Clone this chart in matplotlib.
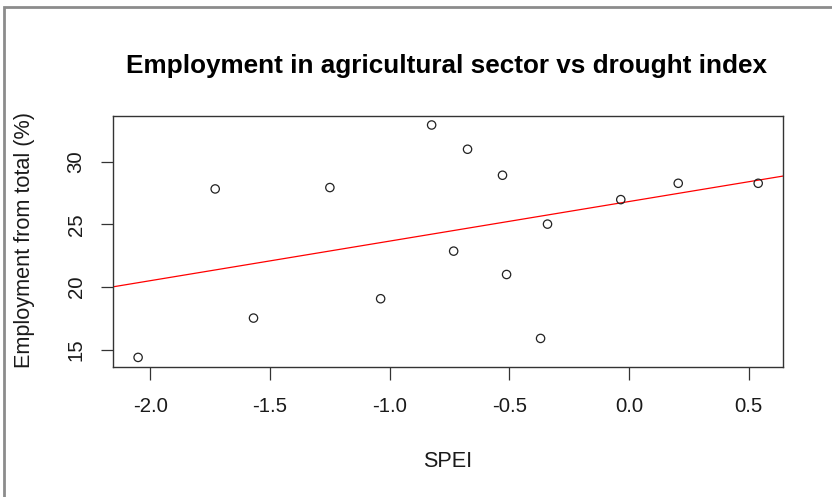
import numpy as np
import matplotlib
matplotlib.use("Agg")
import matplotlib.pyplot as plt
from matplotlib.patches import Rectangle

# Drought index (SPEI) and share of employment in agriculture (%)
spei = [-2.051, -1.729, -1.569, -1.250, -1.038, -0.825, -0.675, -0.733,
        -0.529, -0.512, -0.341, -0.370, -0.035, 0.205, 0.539]
employment = [14.41, 27.82, 17.54, 27.93, 19.08, 32.91, 30.98, 22.87,
              28.91, 21.01, 25.02, 15.92, 26.97, 28.27, 28.27]

x_ticks = [-2.0, -1.5, -1.0, -0.5, 0.0, 0.5]
x_tick_labels = ["-2.0", "-1.5", "-1.0", "-0.5", "0.0", "0.5"]
y_ticks = [15, 20, 25, 30]
y_tick_labels = ["15", "20", "25", "30"]

title = "Employment in agricultural sector vs drought index"
x_label = "SPEI"
y_label = "Employment from total (%)"

W, H = 832, 497
DPI = 100
plt.rcParams["font.family"] = ["Liberation Sans", "DejaVu Sans"]

fig = plt.figure(figsize=(W / DPI, H / DPI), dpi=DPI)
fig.patch.set_facecolor("white")


def px(x, y):
    """Pixel position (from top-left) to figure fraction."""
    return x / W, 1 - y / H


# plot region in pixels
left, top, right, bottom = 113.3, 115.7, 783.0, 366.7
ax = fig.add_axes([left / W, 1 - bottom / H, (right - left) / W, (bottom - top) / H])

x = np.asarray(spei)
y = np.asarray(employment)

# R-style 4% padding around the data range
def padded(v):
    r = v.max() - v.min()
    return v.min() - 0.04 * r, v.max() + 0.04 * r

ax.set_xlim(*padded(x))
ax.set_ylim(*padded(y))

ax.scatter(x, y, s=36, facecolors="none", edgecolors="#222222", linewidths=0.9, zorder=3)

# least-squares line spanning the whole plot region
slope, intercept = np.polyfit(x, y, 1)
xl = np.array(ax.get_xlim())
ax.plot(xl, intercept + slope * xl, color="#ff0000", lw=0.9, zorder=2)
ax.set_xlim(*padded(x))

for s in ax.spines.values():
    s.set_color("#333333")
    s.set_linewidth(1.0)

tick_fs = 14.7
label_fs = 15.6
ax.set_xticks(x_ticks)
ax.set_xticklabels(x_tick_labels, fontsize=tick_fs, color="#1a1a1a")
ax.set_yticks(y_ticks)
ax.set_yticklabels(y_tick_labels, fontsize=tick_fs, color="#1a1a1a",
                   rotation=90, va="center", ha="right")
ax.tick_params(axis="x", length=9, width=0.9, color="#333333", pad=12.5)
ax.tick_params(axis="y", length=9, width=0.9, color="#333333", pad=11)

fig.text(*px(447, 73.3), title, fontsize=18.8, fontweight="bold",
         ha="center", va="baseline", color="black")
fig.text(*px(448, 467.3), x_label, fontsize=label_fs, ha="center",
         va="baseline", color="#1a1a1a")
fig.text(*px(30, 240), y_label, fontsize=label_fs, ha="center",
         va="baseline", rotation=90, rotation_mode="anchor", color="#1a1a1a")

# thin grey frame along the left and top edges
fig.add_artist(Rectangle(px(3.5, H + 5), (W + 10) / W, (H - 6.5 + 5) / H,
                         transform=fig.transFigure, fill=False,
                         edgecolor="#8c8c8c", linewidth=2.0, clip_on=False))

fig.savefig("out.png", dpi=DPI, facecolor="white")
